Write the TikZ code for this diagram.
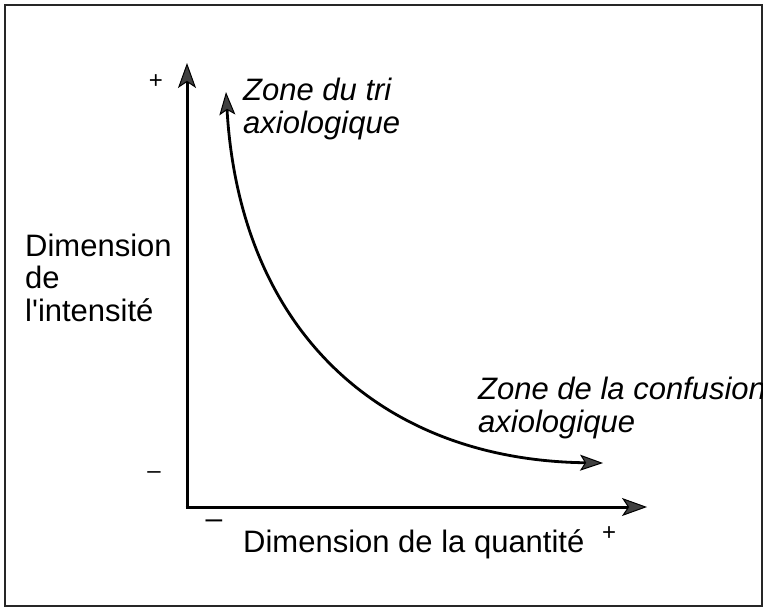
\documentclass[tikz,border=0pt]{standalone}
\usepackage{fontspec}
\setmainfont{Liberation Sans}
\usetikzlibrary{arrows.meta}
\tikzset{
  axisline/.style={line width=3pt, draw=black},
  tipA/.style={-{Stealth[length=25pt,width=18pt,inset=6pt,line width=1pt,fill=black!75]}},
  lbl/.style={inner sep=0pt, anchor=base west, align=left, font=\fontsize{31}{32.5}\selectfont},
  ilbl/.style={lbl, font=\fontsize{31}{32.5}\selectfont\itshape},
  sgn/.style={inner sep=0pt, font=\fontsize{24}{24}\selectfont},
}
\begin{document}
\begin{tikzpicture}[x=1pt,y=-1pt]
\useasboundingbox (0,0) rectangle (765,608);
\fill[white] (0,0) rectangle (765,608);
\draw[line width=1.4pt, draw=black!85] (5,5) rectangle (762,606);
\begin{scope}
\clip (5,5) rectangle (762,606);
% axes
\coordinate (O) at (187,507);
\coordinate (ytop) at (187,63);
\coordinate (xend) at (647,507);
\draw[axisline, tipA] (O) -- (ytop);
\draw[axisline, tipA, shorten <=-1.5pt] (O) -- (xend);
% curve
\coordinate (ctop) at (226,92);
\coordinate (cend) at (603,463);
\draw[line width=2.8pt, {Stealth[length=23pt,width=16pt,inset=5pt,line width=1pt,fill=black!75]}-{Stealth[length=23pt,width=16pt,inset=5pt,line width=1pt,fill=black!75]}]
  (ctop) .. controls (240,332) and (382,460) .. (cend);
% labels
\node[ilbl] (ztri) at (243,133) {Zone du tri\\axiologique};
\node[ilbl] (zconf) at (478,432) {Zone de la confusion\\axiologique};
\node[lbl] (yl) at (25,321) {Dimension\\de\\l\textquotesingle intensité};
\node[lbl] (xl) at (243,552) {Dimension de la quantité};
\node[sgn] (yplus) at (156,82) {+};
\node[sgn] (yminus) at (154,475) {–};
\node[sgn, font=\fontsize{30}{30}\selectfont] (xminus) at (214,524) {–};
\node[sgn] (xplus) at (609,534) {+};
\end{scope}
\end{tikzpicture}
\end{document}
